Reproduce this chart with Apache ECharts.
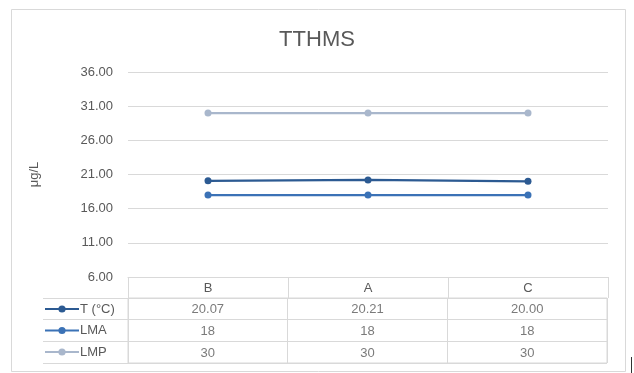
<!DOCTYPE html>
<html>
<head>
<meta charset="utf-8">
<script src="https://cdn.jsdelivr.net/npm/echarts@6/dist/echarts.min.js"></script>
<style>
  html, body { margin: 0; padding: 0; background: #fff; }
  #chart { width: 634px; height: 373px; }
</style>
</head>
<body>
<div id="chart"></div>
<script>
// Sites along the category axis
var categories = ['B', 'A', 'C'];

// Series names and their values (μg/L)
var seriesNames = ['T (°C)', 'LMA', 'LMP'];
var tValues = [20.07, 20.21, 20.00];
var lmaValues = [18, 18, 18];
var lmpValues = [30, 30, 30];
// Decimal places shown in the data table for each series
var tableDecimals = [2, 0, 0];

// Value axis range and step
var yMin = 6;
var yMax = 36;
var yStep = 5;

var seriesValues = [tValues, lmaValues, lmpValues];
var colors = ['#2c5a92', '#3b72b6', '#a9b7cc'];
var textColor = '#595959';
var ruleColor = '#d9d9d9';
var font = 'Liberation Sans, Arial, sans-serif';

// Text cells of the data table: [column, row, value, decimals]
var tableCells = [];
seriesValues.forEach(function (vals, r) {
  vals.forEach(function (v, c) {
    tableCells.push([c, r, v, tableDecimals[r]]);
  });
});

var lineSeries = seriesValues.map(function (vals, i) {
  return {
    name: seriesNames[i],
    type: 'line',
    xAxisIndex: 0,
    yAxisIndex: 0,
    data: vals,
    symbol: 'circle',
    symbolSize: 7,
    color: colors[i],
    lineStyle: { width: 2.25, color: colors[i] },
    itemStyle: { color: colors[i] },
    emphasis: { disabled: true },
    animation: false,
    z: 3 + (2 - i)
  };
});

var chart = echarts.init(document.getElementById('chart'), null, { renderer: 'canvas' });

chart.setOption({
  backgroundColor: '#ffffff',
  animation: false,
  textStyle: { fontFamily: font },
  title: {
    text: 'TTHMS',
    left: 'center',
    top: 24,
    textStyle: { fontFamily: font, fontSize: 22, fontWeight: 'normal', color: textColor }
  },
  legend: {
    orient: 'vertical',
    left: 44,
    top: 302,
    padding: 0,
    itemWidth: 34,
    itemHeight: 9,
    itemGap: 7.5,
    selectedMode: false,
    data: seriesNames,
    textStyle: { fontFamily: font, fontSize: 13, color: textColor, lineHeight: 14, padding: [0, 0, 0, -4] }
  },
  grid: [
    { left: 128, right: 26, top: 72, height: 205 },
    { left: 128, right: 27, top: 298, height: 65, show: true, borderColor: ruleColor, borderWidth: 1 }
  ],
  xAxis: [
    {
      type: 'category',
      gridIndex: 0,
      data: categories,
      boundaryGap: true,
      axisLine: { show: true, lineStyle: { color: ruleColor, width: 1 } },
      axisTick: { show: true, alignWithLabel: false, length: 21, lineStyle: { color: ruleColor } },
      axisLabel: { color: textColor, fontSize: 13, margin: 5, fontFamily: font }
    },
    {
      type: 'category',
      gridIndex: 1,
      data: categories,
      boundaryGap: true,
      axisLine: { show: false },
      axisTick: { show: false },
      axisLabel: { show: false },
      splitLine: { show: true, lineStyle: { color: ruleColor } }
    }
  ],
  yAxis: [
    {
      type: 'value',
      gridIndex: 0,
      min: yMin,
      max: yMax,
      interval: yStep,
      name: 'μg/L',
      nameLocation: 'middle',
      nameRotate: 90,
      nameGap: 87,
      nameTextStyle: { color: textColor, fontSize: 13, fontFamily: font },
      axisLine: { show: false },
      axisTick: { show: false },
      axisLabel: {
        color: textColor,
        fontSize: 13,
        margin: 15,
        fontFamily: font,
        formatter: function (v) { return v.toFixed(2); }
      },
      splitLine: { show: true, lineStyle: { color: ruleColor, width: 1 } }
    },
    {
      type: 'category',
      gridIndex: 1,
      data: seriesNames,
      inverse: true,
      boundaryGap: true,
      axisLine: { show: false },
      axisTick: { show: true, alignWithLabel: false, length: 85, lineStyle: { color: ruleColor } },
      axisLabel: { show: false },
      splitLine: { show: true, lineStyle: { color: ruleColor } }
    }
  ],
  series: lineSeries.concat([
    {
      name: 'table',
      type: 'scatter',
      xAxisIndex: 1,
      yAxisIndex: 1,
      data: tableCells,
      symbolSize: 0,
      silent: true,
      animation: false,
      label: {
        show: true,
        position: 'inside',
        offset: [0, 1],
        color: textColor,
        fontSize: 13,
        fontFamily: font,
        formatter: function (p) { return p.data[2].toFixed(p.data[3]); }
      }
    }
  ]),
  graphic: [
    {
      type: 'rect',
      shape: { x: 11.5, y: 9.5, width: 614, height: 362 },
      style: { fill: 'none', stroke: '#d9d9d9', lineWidth: 1 },
      silent: true,
      z: -1
    },
    {
      type: 'line',
      shape: { x1: 631.5, y1: 357, x2: 631.5, y2: 373 },
      style: { stroke: '#333333', lineWidth: 1 },
      silent: true
    }
  ]
});
</script>
</body>
</html>
